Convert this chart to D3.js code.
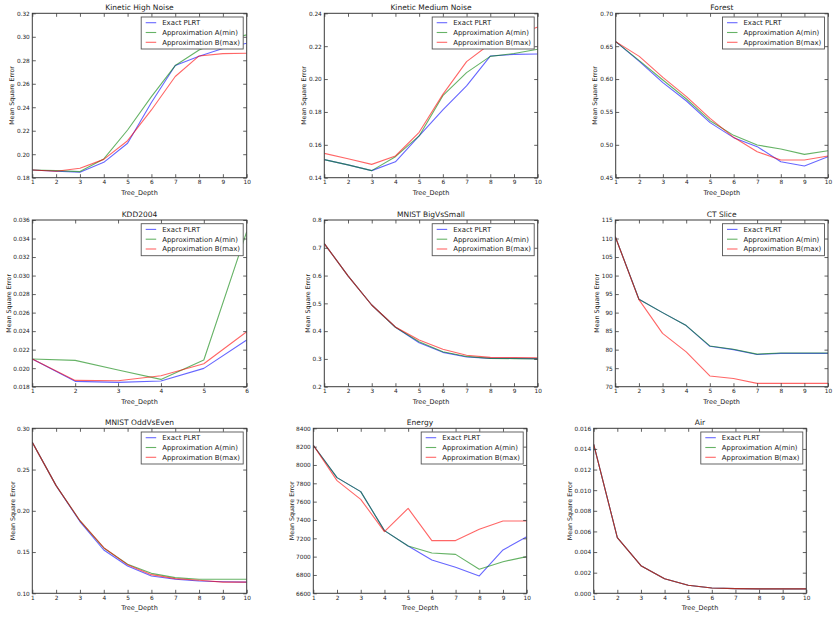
<!DOCTYPE html>
<html>
<head>
<meta charset="utf-8">
<script src="https://cdn.jsdelivr.net/npm/d3@7"></script>
<style>
  html, body { margin: 0; padding: 0; background: #fff; }
  svg { display: block; font-family: "DejaVu Sans", sans-serif; }
</style>
</head>
<body>
<svg id="chart" width="838" height="617"></svg>
<script>
// ---------- DATA ----------
const seriesNames = ["Exact PLRT", "Approximation A(min)", "Approximation B(max)"];
const depth10 = [1, 2, 3, 4, 5, 6, 7, 8, 9, 10];
const depth6 = [1, 2, 3, 4, 5, 6];

const titles = ["Kinetic High Noise", "Kinetic Medium Noise", "Forest",
                "KDD2004", "MNIST BigVsSmall", "CT Slice",
                "MNIST OddVsEven", "Energy", "Air"];

// Kinetic High Noise
const khnExact = [0.1865, 0.1855, 0.1847, 0.1931, 0.2093, 0.2440, 0.2755, 0.2835, 0.2900, 0.2945];
const khnA     = [0.1865, 0.1860, 0.1852, 0.1960, 0.2206, 0.2490, 0.2755, 0.2888, 0.2970, 0.3016];
const khnB     = [0.1865, 0.1855, 0.1880, 0.1956, 0.2115, 0.2377, 0.2662, 0.2837, 0.2857, 0.2860];
const khnTicks = [0.18, 0.20, 0.22, 0.24, 0.26, 0.28, 0.30, 0.32];

// Kinetic Medium Noise
const kmnExact = [0.1510, 0.1478, 0.1443, 0.1497, 0.1654, 0.1812, 0.1958, 0.2140, 0.2150, 0.2152];
const kmnA     = [0.1510, 0.1478, 0.1443, 0.1528, 0.1654, 0.1899, 0.2039, 0.2138, 0.2155, 0.2181];
const kmnB     = [0.1548, 0.1515, 0.1481, 0.1532, 0.1676, 0.1907, 0.2106, 0.2215, 0.2260, 0.2317];
const kmnTicks = [0.14, 0.16, 0.18, 0.20, 0.22, 0.24];

// Forest
const forExact = [0.6569, 0.6270, 0.5946, 0.5666, 0.5337, 0.5109, 0.4972, 0.4743, 0.4677, 0.4820];
const forA     = [0.6569, 0.6280, 0.5986, 0.5697, 0.5367, 0.5144, 0.4997, 0.4936, 0.4855, 0.4910];
const forB     = [0.6569, 0.6345, 0.6026, 0.5732, 0.5402, 0.5114, 0.4896, 0.4769, 0.4769, 0.4830];
const forTicks = [0.45, 0.50, 0.55, 0.60, 0.65, 0.70];

// KDD2004
const kddExact = [0.02099, 0.01858, 0.01847, 0.01861, 0.01998, 0.02304];
const kddA     = [0.02099, 0.02084, 0.01980, 0.01879, 0.02088, 0.03474];
const kddB     = [0.02099, 0.01868, 0.01865, 0.01919, 0.02048, 0.02394];
const kddTicks = [0.018, 0.020, 0.022, 0.024, 0.026, 0.028, 0.030, 0.032, 0.034, 0.036];

// MNIST BigVsSmall
const bvsExact = [0.715, 0.599, 0.494, 0.414, 0.358, 0.3236, 0.307, 0.302, 0.302, 0.301];
const bvsA     = [0.715, 0.599, 0.494, 0.414, 0.362, 0.326, 0.309, 0.302, 0.301, 0.300];
const bvsB     = [0.715, 0.599, 0.494, 0.415, 0.368, 0.3345, 0.313, 0.3056, 0.305, 0.304];
const bvsTicks = [0.2, 0.3, 0.4, 0.5, 0.6, 0.7, 0.8];

// CT Slice
const ctExact = [110.5, 93.6, 90.0, 86.5, 80.9, 80.0, 78.7, 79.0, 79.0, 79.0];
const ctA     = [110.5, 93.6, 90.0, 86.5, 81.0, 80.1, 78.8, 79.1, 79.1, 79.1];
const ctB     = [110.5, 93.5, 84.4, 79.4, 72.9, 72.2, 70.9, 70.9, 70.9, 70.9];
const ctTicks = [70, 75, 80, 85, 90, 95, 100, 105, 110, 115];

// MNIST OddVsEven
const oveExact = [0.283, 0.2305, 0.187, 0.1525, 0.1331, 0.1210, 0.1170, 0.1150, 0.1140, 0.1135];
const oveA     = [0.283, 0.2305, 0.188, 0.1550, 0.1352, 0.1242, 0.1190, 0.1170, 0.1170, 0.1170];
const oveB     = [0.283, 0.2305, 0.188, 0.1553, 0.1347, 0.1226, 0.1178, 0.1158, 0.1135, 0.1135];
const oveTicks = [0.10, 0.15, 0.20, 0.25, 0.30];

// Energy
const engExact = [8215, 7862, 7709, 7284, 7116, 6964, 6884, 6789, 7073, 7218];
const engA     = [8215, 7862, 7709, 7284, 7116, 7040, 7025, 6862, 6945, 7000];
const engB     = [8215, 7829, 7625, 7273, 7527, 7175, 7175, 7298, 7389, 7389];
const engTicks = [6600, 6800, 7000, 7200, 7400, 7600, 7800, 8000, 8200, 8400];

// Air
const airExact = [0.01444, 0.0054, 0.00268, 0.00142, 0.00078, 0.00052, 0.00045, 0.00043, 0.00043, 0.00043];
const airA     = [0.01444, 0.0054, 0.00268, 0.00142, 0.00078, 0.00052, 0.00045, 0.00043, 0.00043, 0.00043];
const airB     = [0.01444, 0.0054, 0.00268, 0.00142, 0.00078, 0.00052, 0.00045, 0.00043, 0.00043, 0.00043];
const airTicks = [0.000, 0.002, 0.004, 0.006, 0.008, 0.010, 0.012, 0.014, 0.016];

const panelData = [
  { x: depth10, s: [khnExact, khnA, khnB], yt: khnTicks, fmt: ".2f" },
  { x: depth10, s: [kmnExact, kmnA, kmnB], yt: kmnTicks, fmt: ".2f" },
  { x: depth10, s: [forExact, forA, forB], yt: forTicks, fmt: ".2f" },
  { x: depth6,  s: [kddExact, kddA, kddB], yt: kddTicks, fmt: ".3f" },
  { x: depth10, s: [bvsExact, bvsA, bvsB], yt: bvsTicks, fmt: ".1f" },
  { x: depth10, s: [ctExact, ctA, ctB],    yt: ctTicks,  fmt: "d" },
  { x: depth10, s: [oveExact, oveA, oveB], yt: oveTicks, fmt: ".2f" },
  { x: depth10, s: [engExact, engA, engB], yt: engTicks, fmt: "d" },
  { x: depth10, s: [airExact, airA, airB], yt: airTicks, fmt: ".3f" }
];

// ---------- LAYOUT (plot boxes, y-label centre offsets) ----------
const boxes = [
  { l: 32.3, t: 13.3, w: 214.4, h: 164.4, yl: -20 },
  { l: 324.3, t: 13.3, w: 213.4, h: 164.4, yl: -20 },
  { l: 615.7, t: 13.3, w: 212.3, h: 164.4, yl: -21 },
  { l: 32.3, t: 220.0, w: 214.4, h: 166.7, yl: -23 },
  { l: 324.3, t: 220.0, w: 213.4, h: 166.7, yl: -16 },
  { l: 615.3, t: 220.0, w: 212.7, h: 166.7, yl: -18 },
  { l: 32.3, t: 428.3, w: 214.4, h: 165.0, yl: -19 },
  { l: 313.3, t: 428.3, w: 213.4, h: 165.0, yl: -21 },
  { l: 593.7, t: 428.3, w: 212.6, h: 165.0, yl: -24 }
];

const colors = ["rgba(0,0,255,0.6)", "rgba(0,128,0,0.6)", "rgba(255,0,0,0.6)"];
const frameColor = "#3a3a3a";
const tickLen = 3.5;

const svg = d3.select("#chart");

const probe = svg.append("text").attr("font-size", 10).text(seriesNames[2]);
const legFont = 10 * 78 / probe.node().getComputedTextLength();
probe.remove();

panelData.forEach((pd, i) => {
  const b = boxes[i];
  const g = svg.append("g").attr("transform", `translate(${b.l},${b.t})`);
  const x = d3.scaleLinear().domain(d3.extent(pd.x)).range([0, b.w]);
  const y = d3.scaleLinear().domain(d3.extent(pd.yt)).range([b.h, 0]);
  const fmt = d3.format(pd.fmt);

  const cid = "clip" + i;
  g.append("clipPath").attr("id", cid).append("rect")
    .attr("width", b.w).attr("height", b.h);

  const line = d3.line().x((d, k) => x(pd.x[k])).y(d => y(d));
  const lg = g.append("g").attr("clip-path", `url(#${cid})`);
  pd.s.forEach((vals, k) => {
    lg.append("path").datum(vals)
      .attr("d", line)
      .attr("fill", "none")
      .attr("stroke", colors[k])
      .attr("stroke-width", 1.1)
      .attr("stroke-linejoin", "round");
  });

  const axB = d3.axisBottom(x).tickValues(pd.x).tickSizeInner(-tickLen).tickSizeOuter(0).tickPadding(2.5).tickFormat(d3.format("d"));
  const axT = d3.axisTop(x).tickValues(pd.x).tickSizeInner(-tickLen).tickSizeOuter(0).tickFormat("");
  const axL = d3.axisLeft(y).tickValues(pd.yt).tickSizeInner(-tickLen).tickSizeOuter(0).tickPadding(2.5).tickFormat(fmt);
  const axR = d3.axisRight(y).tickValues(pd.yt).tickSizeInner(-tickLen).tickSizeOuter(0).tickFormat("");

  const styleAxis = sel => {
    sel.select(".domain").remove();
    sel.selectAll(".tick line").attr("stroke", frameColor).attr("stroke-width", 0.8);
    sel.selectAll(".tick text").attr("fill", "#222").attr("font-size", 5.8)
      .attr("font-family", "DejaVu Sans, sans-serif");
  };
  g.append("g").attr("transform", `translate(0,${b.h})`).call(axB).call(styleAxis);
  g.append("g").call(axT).call(styleAxis);
  g.append("g").call(axL).call(styleAxis);
  g.append("g").attr("transform", `translate(${b.w},0)`).call(axR).call(styleAxis);

  g.append("rect").attr("width", b.w).attr("height", b.h)
    .attr("fill", "none").attr("stroke", frameColor).attr("stroke-width", 1);

  g.append("text").attr("x", b.w / 2).attr("y", -3.5)
    .attr("text-anchor", "middle").attr("font-size", 7.5).attr("fill", "#222")
    .text(titles[i]);

  g.append("text").attr("x", b.w / 2).attr("y", b.h + 17)
    .attr("text-anchor", "middle").attr("font-size", 6.5).attr("fill", "#222")
    .text("Tree_Depth");

  g.append("text")
    .attr("transform", `translate(${b.yl + 2},${b.h / 2}) rotate(-90)`)
    .attr("text-anchor", "middle").attr("font-size", 6.3).attr("fill", "#222")
    .text("Mean Square Error");

  const legW = 102, legH = 32;
  const leg = g.append("g").attr("transform", `translate(${b.w - legW - 3.5},${3.7})`);
  leg.append("rect").attr("width", legW).attr("height", legH)
    .attr("fill", "#fff").attr("stroke", "#555").attr("stroke-width", 0.9);
  seriesNames.forEach((name, k) => {
    const yy = 5.7 + k * 9.8;
    leg.append("line").attr("x1", 4.5).attr("x2", 15).attr("y1", yy).attr("y2", yy)
      .attr("stroke", colors[k]).attr("stroke-width", 1.1);
    leg.append("text").attr("x", 21).attr("y", yy + 2.5)
      .attr("font-size", legFont).attr("fill", "#222").text(name);
  });
});
</script>
</body>
</html>
